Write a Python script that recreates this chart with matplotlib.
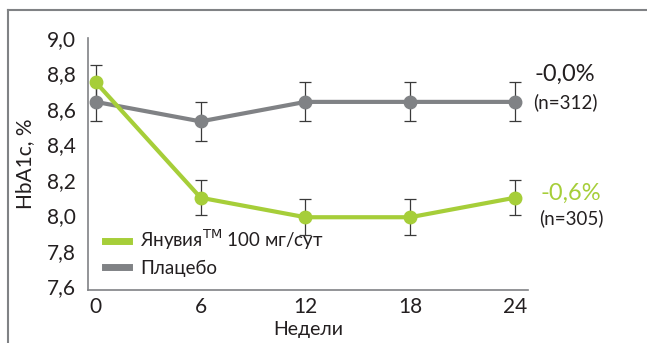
import matplotlib.pyplot as plt
from matplotlib.lines import Line2D

weeks = [0, 6, 12, 18, 24]
januvia = [8.75, 8.10, 7.99, 7.99, 8.10]
januvia_err = [0.10, 0.10, 0.10, 0.10, 0.10]
placebo = [8.64, 8.53, 8.64, 8.64, 8.64]
placebo_err = [0.11, 0.11, 0.11, 0.11, 0.11]
yticks = [7.6, 7.8, 8.0, 8.2, 8.4, 8.6, 8.8, 9.0]

green = '#a6ce39'
gray = '#808285'
dark = '#231f20'

plt.rcParams['font.family'] = ['Lato', 'DejaVu Sans']

fig = plt.figure(figsize=(6.47, 3.43), dpi=100)
ax = fig.add_axes([88 / 647, 1 - 290 / 343, 440 / 647, 252 / 343])

# error bars
ax.errorbar(weeks, placebo, yerr=placebo_err, fmt='none', ecolor='#3a3a3a',
            elinewidth=0.9, capsize=4, capthick=0.9, zorder=1)
ax.errorbar(weeks, januvia, yerr=januvia_err, fmt='none', ecolor='#3a3a3a',
            elinewidth=0.9, capsize=4, capthick=0.9, zorder=1)

ax.plot(weeks, placebo, color=gray, lw=3, marker='o', ms=9, zorder=2,
        label='Плацебо')
ax.plot(weeks, januvia, color=green, lw=3, marker='o', ms=9, zorder=3,
        label='Янувия$^{\\mathrm{TM}}$ 100 мг/сут')

ax.set_xlim(-0.45, 24.75)
ax.set_ylim(7.58, 9.0)
ax.set_xticks(weeks)
ax.set_yticks(yticks)
ax.set_yticklabels([f'{v:.1f}'.replace('.', ',') for v in yticks])
ax.tick_params(length=0, labelsize=15, colors=dark, pad=9)
ax.tick_params(axis='x', pad=5)

for s in ['top', 'right']:
    ax.spines[s].set_visible(False)
for s in ['left', 'bottom']:
    ax.spines[s].set_color(gray)
    ax.spines[s].set_linewidth(1.2)

ax.set_ylabel('HbA1c, %', fontsize=15, color=dark, labelpad=8)
ax.set_xlabel('Недели', fontsize=14, color=dark, labelpad=3)

handles, labels = ax.get_legend_handles_labels()
leg_handles = [Line2D([0], [0], color=green, lw=5), Line2D([0], [0], color=gray, lw=5)]
ax.legend(leg_handles, [labels[1], labels[0]], loc='lower left',
          bbox_to_anchor=(0.0, -0.015), frameon=False,
          handlelength=1.3, handletextpad=0.6, labelspacing=0.4,
          labelcolor=dark, prop={'size': 13.5})

# end annotations
ax.annotate('-0,0%', xy=(24, 8.64), xytext=(36, 20), textcoords='offset points',
            ha='center', va='center', fontsize=17, color=dark)
ax.annotate('(n=312)', xy=(24, 8.64), xytext=(36, 0), textcoords='offset points',
            ha='center', va='center', fontsize=13.5, color=dark)
ax.annotate('-0,6%', xy=(24, 8.10), xytext=(40, 3), textcoords='offset points',
            ha='center', va='center', fontsize=17, color=green)
ax.annotate('(n=305)', xy=(24, 8.10), xytext=(41, -15), textcoords='offset points',
            ha='center', va='center', fontsize=13.5, color=dark)

# outer frame (top and left)
fig.add_artist(Line2D([8 / 647, 1.0], [1 - 10 / 343, 1 - 10 / 343],
                      transform=fig.transFigure, color=gray, lw=1.5))
fig.add_artist(Line2D([8 / 647, 8 / 647], [0, 1 - 10 / 343],
                      transform=fig.transFigure, color=gray, lw=1.5))

plt.savefig('out.png', dpi=100)
